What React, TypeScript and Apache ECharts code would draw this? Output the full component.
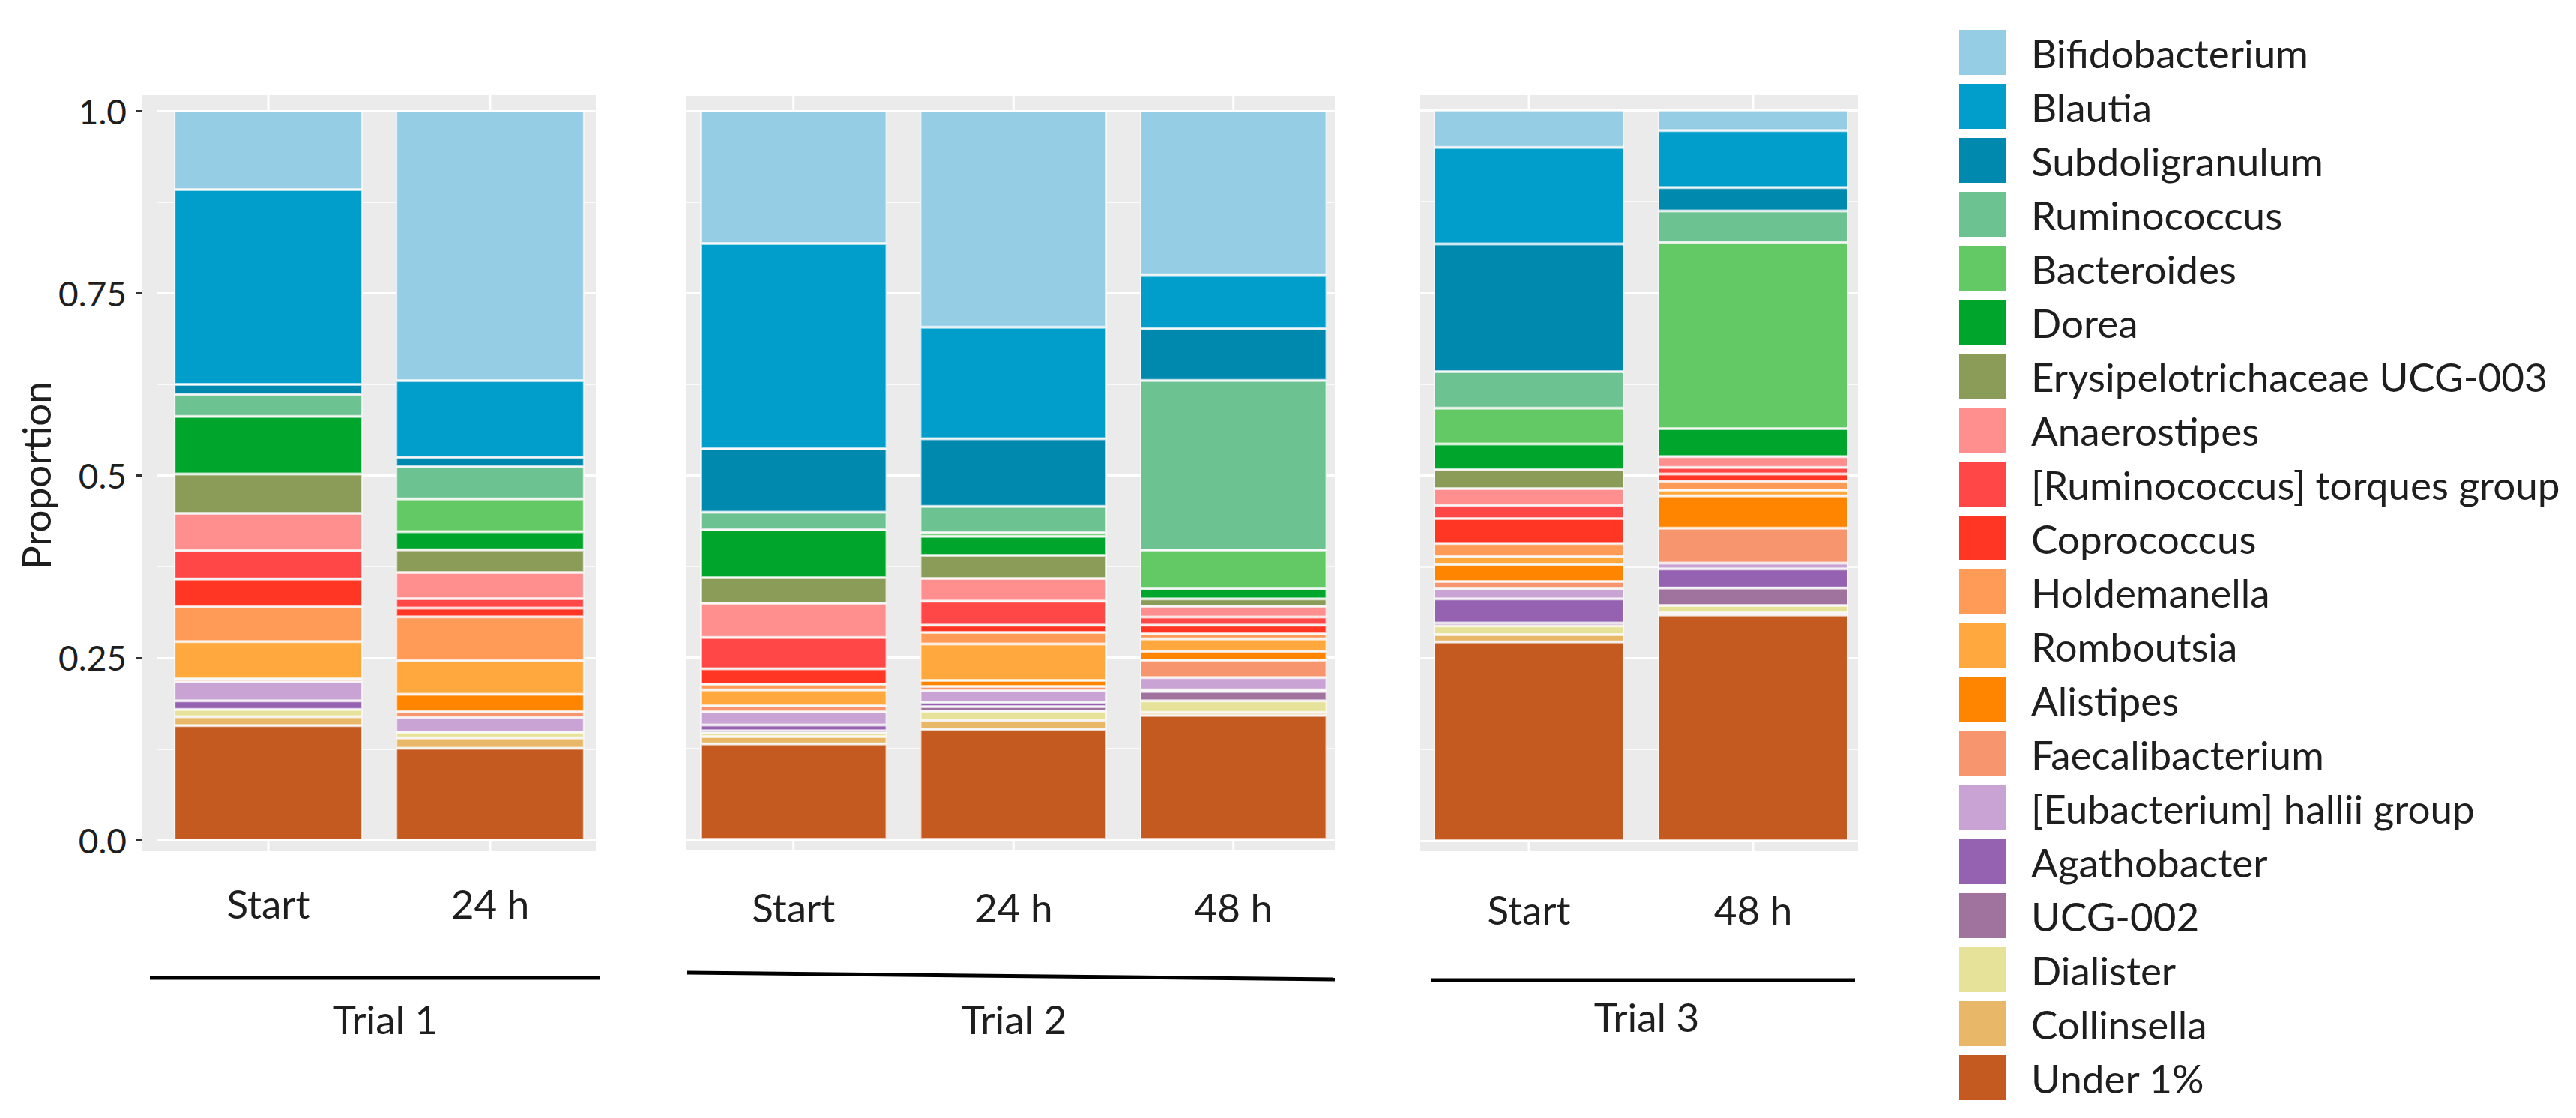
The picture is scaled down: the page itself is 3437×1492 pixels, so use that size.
import React, { useEffect, useRef } from 'react';
import * as echarts from 'echarts';

// ---------- DATA ----------
const trial1Samples = ['Start', '24 h'];
const trial2Samples = ['Start', '24 h', '48 h'];
const trial3Samples = ['Start', '48 h'];
const trialNames = ['Trial 1', 'Trial 2', 'Trial 3'];

// Sample order: T1 Start, T1 24 h, T2 Start, T2 24 h, T2 48 h, T3 Start, T3 48 h
const under1 = [0.157, 0.126, 0.131, 0.151, 0.170, 0.272, 0.309];
const collinsella = [0.012, 0.014, 0.010, 0.012, 0.004, 0.010, 0.003];
const dialister = [0.010, 0.008, 0.005, 0.013, 0.016, 0.012, 0.010];
const ucg002 = [0.000, 0.000, 0.003, 0.006, 0.013, 0.004, 0.024];
const agathobacter = [0.012, 0.000, 0.008, 0.006, 0.002, 0.033, 0.026];
const halliiGroup = [0.026, 0.020, 0.018, 0.016, 0.017, 0.014, 0.008];
const faecalibacterium = [0.004, 0.008, 0.008, 0.006, 0.024, 0.010, 0.048];
const alistipes = [0.000, 0.024, 0.000, 0.008, 0.012, 0.023, 0.044];
const romboutsia = [0.051, 0.046, 0.022, 0.050, 0.017, 0.011, 0.008];
const holdemanella = [0.048, 0.060, 0.008, 0.016, 0.007, 0.018, 0.012];
const coprococcus = [0.038, 0.012, 0.021, 0.010, 0.012, 0.034, 0.010];
const torquesGroup = [0.039, 0.013, 0.043, 0.033, 0.011, 0.018, 0.009];
const anaerostipes = [0.051, 0.036, 0.047, 0.031, 0.015, 0.023, 0.015];
const erysipelotrichaceae = [0.054, 0.031, 0.035, 0.032, 0.010, 0.026, 0.000];
const dorea = [0.079, 0.025, 0.066, 0.026, 0.014, 0.035, 0.038];
const bacteroides = [0.000, 0.045, 0.000, 0.005, 0.053, 0.049, 0.255];
const ruminococcus = [0.030, 0.044, 0.024, 0.036, 0.233, 0.050, 0.043];
const subdoligranulum = [0.014, 0.013, 0.087, 0.093, 0.071, 0.175, 0.032];
const blautia = [0.267, 0.105, 0.282, 0.153, 0.074, 0.132, 0.078];
const bifidobacterium = [0.108, 0.370, 0.182, 0.297, 0.225, 0.051, 0.028];

const yTickValues = [0, 0.25, 0.5, 0.75, 1];
const yTickLabels = ['0.0', '0.25', '0.5', '0.75', '1.0'];

// stacking order, bottom first
const taxa = [
  { name: 'Under 1%', values: under1, color: '#C55A20' },
  { name: 'Collinsella', values: collinsella, color: '#E8B868' },
  { name: 'Dialister', values: dialister, color: '#E7E29A' },
  { name: 'UCG-002', values: ucg002, color: '#A0739F' },
  { name: 'Agathobacter', values: agathobacter, color: '#9561B1' },
  { name: '[Eubacterium] hallii group', values: halliiGroup, color: '#C9A3D4' },
  { name: 'Faecalibacterium', values: faecalibacterium, color: '#F7966E' },
  { name: 'Alistipes', values: alistipes, color: '#FF8400' },
  { name: 'Romboutsia', values: romboutsia, color: '#FFA83D' },
  { name: 'Holdemanella', values: holdemanella, color: '#FF9A57' },
  { name: 'Coprococcus', values: coprococcus, color: '#FF3623' },
  { name: '[Ruminococcus] torques group', values: torquesGroup, color: '#FF4747' },
  { name: 'Anaerostipes', values: anaerostipes, color: '#FF8F8F' },
  { name: 'Erysipelotrichaceae UCG-003', values: erysipelotrichaceae, color: '#8B9B58' },
  { name: 'Dorea', values: dorea, color: '#00A62C' },
  { name: 'Bacteroides', values: bacteroides, color: '#62C964' },
  { name: 'Ruminococcus', values: ruminococcus, color: '#6CC291' },
  { name: 'Subdoligranulum', values: subdoligranulum, color: '#0089AF' },
  { name: 'Blautia', values: blautia, color: '#019DCB' },
  { name: 'Bifidobacterium', values: bifidobacterium, color: '#94CDE4' },
];

// ---------- LAYOUT ----------
const FONT = 'Lato';
const TEXT = '#1e1e1e';
const panels = [
  { cats: trial1Samples, start: 0, left: 210, band: 296, top: 148, bottom: 1121, bg: [189, 127, 795, 1136], labelGap: 84, line: [200, 1305, 800, 1305], labelX: 514, labelY: 1359 },
  { cats: trial2Samples, start: 2, left: 912, band: 293.5, top: 148, bottom: 1120, bg: [915, 128, 1781, 1135], labelGap: 90, line: [916, 1298, 1781, 1307], labelX: 1353, labelY: 1359 },
  { cats: trial3Samples, start: 5, left: 1890.5, band: 299, top: 147, bottom: 1122, bg: [1895, 127, 2479, 1136], labelGap: 91, line: [1909, 1308, 2475, 1308], labelX: 2197, labelY: 1356 },
];

function buildOption() {
  const grid: any[] = [];
  const xAxis: any[] = [];
  const yAxis: any[] = [];
  const series: any[] = [];
  const graphic: any[] = [];

  panels.forEach((p, i) => {
    const width = p.band * p.cats.length;
    grid.push({ left: p.left, top: p.top, width, height: p.bottom - p.top, containLabel: false, outerBoundsMode: 'none' });
    xAxis.push({
      type: 'category', gridIndex: i, data: p.cats,
      axisLine: { show: false }, axisTick: { show: false }, splitLine: { show: false },
      axisLabel: { margin: p.labelGap, verticalAlign: 'middle', fontSize: 53, fontFamily: FONT, color: TEXT },
    });
    const y: any = {
      type: 'value', gridIndex: i, min: 0, max: 1, interval: 0.25,
      axisLine: { show: false },
      splitLine: { show: true, lineStyle: { color: '#ffffff', width: 3 } },
      minorTick: { show: false, splitNumber: 2 },
      minorSplitLine: { show: true, lineStyle: { color: '#ffffff', width: 1.5 } },
    };
    if (i === 0) {
      Object.assign(y, {
        offset: p.left - p.bg[0],
        axisTick: { show: true, length: 8, lineStyle: { color: '#333333', width: 3 } },
        axisLabel: {
          margin: 20, fontSize: 46, fontFamily: FONT, color: TEXT,
          formatter: (v: number) => {
            const k = yTickValues.findIndex((t) => Math.abs(t - v) < 1e-9);
            return k >= 0 ? yTickLabels[k] : String(v);
          },
        },
        name: 'Proportion', nameLocation: 'middle', nameGap: 104,
        nameTextStyle: { fontSize: 53, fontFamily: FONT, color: TEXT },
      });
    } else {
      Object.assign(y, { axisTick: { show: false }, axisLabel: { show: false } });
    }
    yAxis.push(y);

    taxa.forEach((t) => {
      series.push({
        type: 'bar', name: t.name, stack: 'trial' + i,
        xAxisIndex: i, yAxisIndex: i,
        barWidth: '85%',
        data: t.values.slice(p.start, p.start + p.cats.length).map((v) => (v === 0 ? null : v)),
        itemStyle: { color: t.color, borderColor: 'rgba(255,255,255,0.65)', borderWidth: 2 },
        emphasis: { disabled: true },
        silent: true,
      });
    });

    // panel background
    graphic.push({
      type: 'rect', z: -10, silent: true,
      shape: { x: p.bg[0], y: p.bg[1], width: p.bg[2] - p.bg[0], height: p.bg[3] - p.bg[1] },
      style: { fill: '#EBEBEB' },
    });
    // vertical grid lines visible in the expansion strips
    p.cats.forEach((_, k) => {
      const cx = p.left + p.band * (k + 0.5);
      graphic.push({ type: 'line', z: -9, silent: true, shape: { x1: cx, y1: p.bg[1], x2: cx, y2: p.top }, style: { stroke: '#ffffff', lineWidth: 3 } });
      graphic.push({ type: 'line', z: -9, silent: true, shape: { x1: cx, y1: p.bottom, x2: cx, y2: p.bg[3] }, style: { stroke: '#ffffff', lineWidth: 3 } });
    });
    // trial bracket line and label
    graphic.push({
      type: 'line', silent: true,
      shape: { x1: p.line[0], y1: p.line[1], x2: p.line[2], y2: p.line[3] },
      style: { stroke: '#000000', lineWidth: 5 },
    });
    graphic.push({
      type: 'text', silent: true, x: p.labelX, y: p.labelY,
      style: {
        text: trialNames[i], fontSize: 53, fontFamily: FONT, fill: TEXT,
        textAlign: 'center', textVerticalAlign: 'middle', align: 'center', verticalAlign: 'middle',
      },
    });
  });

  const legendOrder = taxa.map((t) => t.name).reverse();

  return {
    animation: false,
    backgroundColor: '#ffffff',
    grid, xAxis, yAxis, series, graphic,
    legend: {
      data: legendOrder,
      orient: 'vertical', left: 2609, top: 35,
      itemWidth: 63, itemHeight: 60, itemGap: 12,
      icon: 'rect', selectedMode: false,
      itemStyle: { borderWidth: 0 },
      textStyle: { fontSize: 53, fontFamily: FONT, color: TEXT, lineHeight: 60, padding: [0, 0, 0, 28] },
    },
  };
}

export default function App() {
  const ref = useRef<HTMLDivElement>(null);
  useEffect(() => {
    if (!ref.current) return;
    const chart = echarts.init(ref.current, undefined, { renderer: 'svg' });
    chart.setOption(buildOption() as any);
    return () => chart.dispose();
  }, []);
  return (
    <div
      ref={ref}
      style={{ position: 'fixed', left: 0, top: 0, width: 3437, height: 1492, background: '#ffffff' }}
    />
  );
}
